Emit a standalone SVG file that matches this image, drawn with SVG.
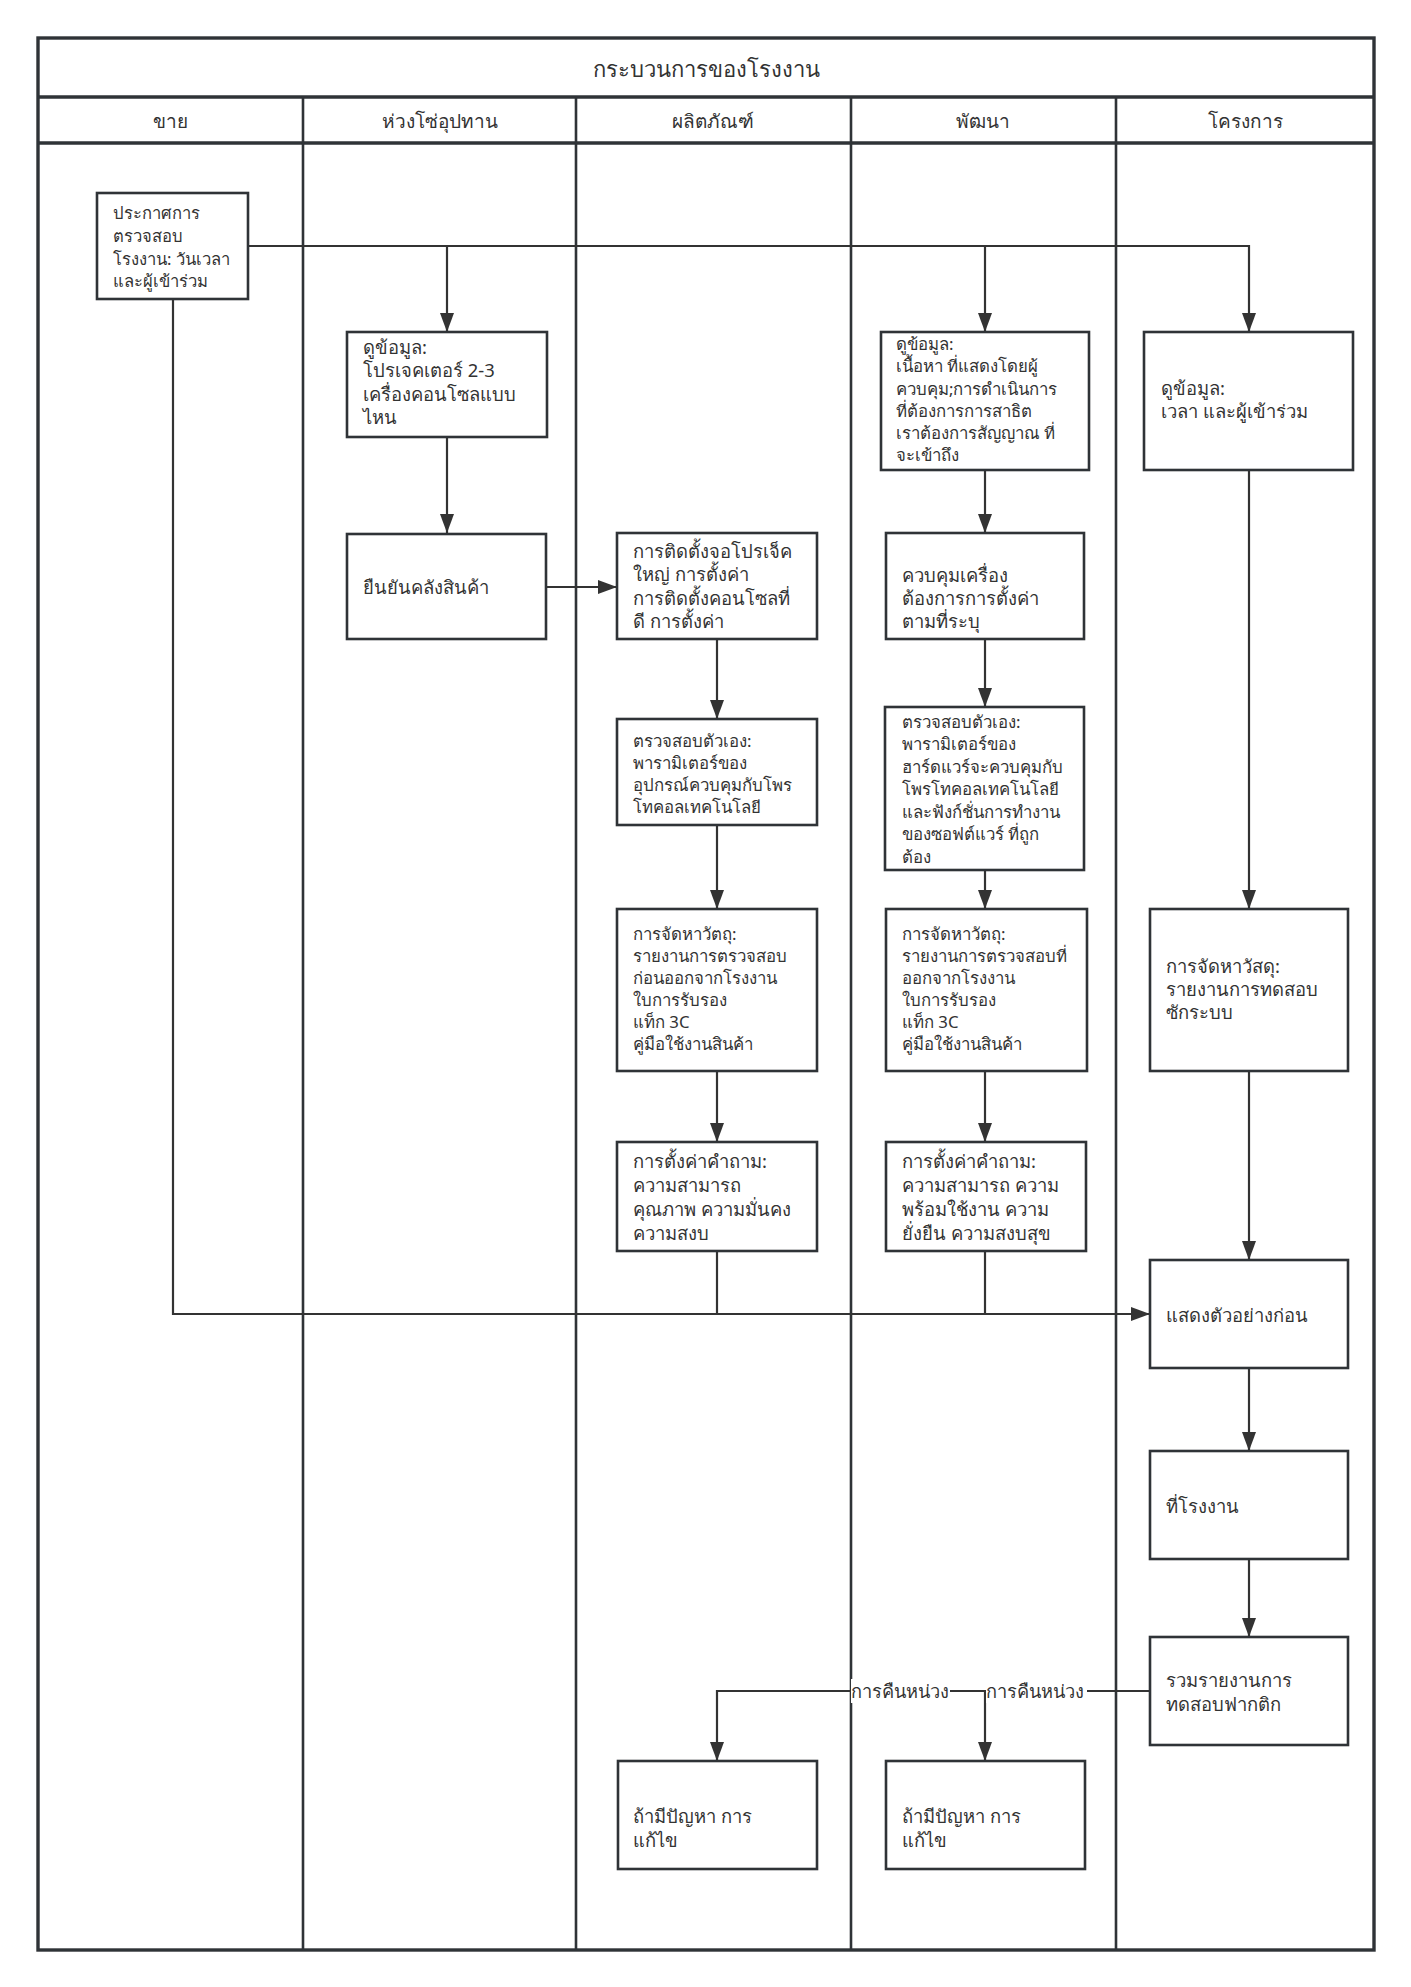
<svg xmlns="http://www.w3.org/2000/svg" width="1411" height="1987" viewBox="0 0 1411 1987">
<style>
text{font-family:"Noto Sans","DejaVu Sans",sans-serif;fill:#333;}
.box{fill:#fff;stroke:#2f3337;stroke-width:2.6;}
.lane{fill:none;stroke:#2f3337;stroke-width:2.6;}
.frame{fill:none;stroke:#2f3337;stroke-width:3.4;}
.c{fill:none;stroke:#333;stroke-width:2.2;}
.t17{font-size:18.4px;}
.t15{font-size:16.8px;}
.t16{font-size:16.6px;}
.hd{font-size:19px;text-anchor:middle;}
.ttl{font-size:22px;text-anchor:middle;}
.lbl{font-size:18.2px;}
</style>
<defs>
<marker id="ah" markerUnits="userSpaceOnUse" markerWidth="19" markerHeight="14" refX="19" refY="7" orient="auto">
<path d="M0,0 L19,7 L0,14 z" fill="#333"/>
</marker>
</defs>
<rect x="0" y="0" width="1411" height="1987" fill="#fff"/>
<g id="pool">
<rect class="frame" x="38" y="38" width="1336" height="1912"/>
<line class="frame" x1="38" y1="97" x2="1374" y2="97"/>
<line class="frame" x1="38" y1="143" x2="1374" y2="143"/>
<line class="lane" x1="303" y1="97" x2="303" y2="1950"/>
<line class="lane" x1="576" y1="97" x2="576" y2="1950"/>
<line class="lane" x1="851" y1="97" x2="851" y2="1950"/>
<line class="lane" x1="1116" y1="97" x2="1116" y2="1950"/>
<text class="ttl" x="706" y="77">กระบวนการของโรงงาน</text>
<text class="hd" x="170" y="128">ขาย</text>
<text class="hd" x="440" y="128">ห่วงโซ่อุปทาน</text>
<text class="hd" x="713" y="128">ผลิตภัณฑ์</text>
<text class="hd" x="983" y="128">พัฒนา</text>
<text class="hd" x="1245" y="128">โครงการ</text>
</g>
<g id="connectors">
<path class="c" d="M248,246 H1249 V332" marker-end="url(#ah)"/>
<path class="c" d="M447,246 V332" marker-end="url(#ah)"/>
<path class="c" d="M985,246 V332" marker-end="url(#ah)"/>
<path class="c" d="M447,437 V533" marker-end="url(#ah)"/>
<path class="c" d="M546,587 H617" marker-end="url(#ah)"/>
<path class="c" d="M717,639 V719" marker-end="url(#ah)"/>
<path class="c" d="M717,825 V909" marker-end="url(#ah)"/>
<path class="c" d="M717,1071 V1142" marker-end="url(#ah)"/>
<path class="c" d="M985,470 V533" marker-end="url(#ah)"/>
<path class="c" d="M985,639 V707" marker-end="url(#ah)"/>
<path class="c" d="M985,870 V909" marker-end="url(#ah)"/>
<path class="c" d="M985,1071 V1142" marker-end="url(#ah)"/>
<path class="c" d="M1249,470 V909" marker-end="url(#ah)"/>
<path class="c" d="M1249,1071 V1260" marker-end="url(#ah)"/>
<path class="c" d="M1249,1368 V1451" marker-end="url(#ah)"/>
<path class="c" d="M1249,1559 V1637" marker-end="url(#ah)"/>
<path class="c" d="M173,299 V1314 H1150" marker-end="url(#ah)"/>
<path class="c" d="M717,1251 V1314"/>
<path class="c" d="M985,1251 V1314"/>
<path class="c" d="M1150,1691 H717 V1761" marker-end="url(#ah)"/>
<path class="c" d="M985,1691 V1761" marker-end="url(#ah)"/>
<rect x="851" y="1679" width="99" height="24" fill="#fff"/>
<text class="lbl" x="851" y="1698">การคืนหน่วง</text>
<rect x="986" y="1679" width="101" height="24" fill="#fff"/>
<text class="lbl" x="986" y="1698">การคืนหน่วง</text>
</g>
<g id="n1">
<rect class="box" x="97" y="193" width="151" height="106"/>
<text class="t16"><tspan x="113" y="219">ประกาศการ</tspan><tspan x="113" y="242">ตรวจสอบ</tspan><tspan x="113" y="265">โรงงาน: วันเวลา</tspan><tspan x="113" y="287">และผู้เข้าร่วม</tspan></text>
</g>
<g id="n2">
<rect class="box" x="347" y="332" width="200" height="105"/>
<text class="t17"><tspan x="363" y="354">ดูข้อมูล:</tspan><tspan x="363" y="377">โปรเจคเตอร์ 2-3</tspan><tspan x="363" y="401">เครื่องคอนโซลแบบ</tspan><tspan x="363" y="424">ไหน</tspan></text>
</g>
<g id="n3">
<rect class="box" x="347" y="534" width="199" height="105"/>
<text class="t17" x="363" y="594">ยืนยันคลังสินค้า</text>
</g>
<g id="n4">
<rect class="box" x="617" y="533" width="200" height="106"/>
<text class="t17"><tspan x="633" y="558">การติดตั้งจอโปรเจ็ค</tspan><tspan x="633" y="581">ใหญ่ การตั้งค่า</tspan><tspan x="633" y="605">การติดตั้งคอนโซลที่</tspan><tspan x="633" y="628">ดี การตั้งค่า</tspan></text>
</g>
<g id="n5">
<rect class="box" x="617" y="719" width="200" height="106"/>
<text class="t15"><tspan x="633" y="747">ตรวจสอบตัวเอง:</tspan><tspan x="633" y="769">พารามิเตอร์ของ</tspan><tspan x="633" y="791">อุปกรณ์ควบคุมกับโพร</tspan><tspan x="633" y="813">โทคอลเทคโนโลยี</tspan></text>
</g>
<g id="n6">
<rect class="box" x="617" y="909" width="200" height="162"/>
<text class="t15"><tspan x="633" y="940">การจัดหาวัตถุ:</tspan><tspan x="633" y="962">รายงานการตรวจสอบ</tspan><tspan x="633" y="984">ก่อนออกจากโรงงาน</tspan><tspan x="633" y="1006">ใบการรับรอง</tspan><tspan x="633" y="1028">แท็ก 3C</tspan><tspan x="633" y="1050">คู่มือใช้งานสินค้า</tspan></text>
</g>
<g id="n7">
<rect class="box" x="617" y="1142" width="200" height="109"/>
<text class="t17"><tspan x="633" y="1168">การตั้งค่าคำถาม:</tspan><tspan x="633" y="1192">ความสามารถ</tspan><tspan x="633" y="1216">คุณภาพ ความมั่นคง</tspan><tspan x="633" y="1240">ความสงบ</tspan></text>
</g>
<g id="n8">
<rect class="box" x="881" y="332" width="208" height="138"/>
<text class="t15"><tspan x="896" y="350">ดูข้อมูล:</tspan><tspan x="896" y="372">เนื้อหา ที่แสดงโดยผู้</tspan><tspan x="896" y="395">ควบคุม;การดำเนินการ</tspan><tspan x="896" y="417">ที่ต้องการการสาธิต</tspan><tspan x="896" y="439">เราต้องการสัญญาณ ที่</tspan><tspan x="896" y="461">จะเข้าถึง</tspan></text>
</g>
<g id="n9">
<rect class="box" x="886" y="533" width="198" height="106"/>
<text class="t17"><tspan x="902" y="582">ควบคุมเครื่อง</tspan><tspan x="902" y="605">ต้องการการตั้งค่า</tspan><tspan x="902" y="628">ตามที่ระบุ</tspan></text>
</g>
<g id="n10">
<rect class="box" x="885" y="707" width="199" height="163"/>
<text class="t15"><tspan x="902" y="728">ตรวจสอบตัวเอง:</tspan><tspan x="902" y="750">พารามิเตอร์ของ</tspan><tspan x="902" y="773">ฮาร์ดแวร์จะควบคุมกับ</tspan><tspan x="902" y="795">โพรโทคอลเทคโนโลยี</tspan><tspan x="902" y="818">และฟังก์ชั่นการทำงาน</tspan><tspan x="902" y="840">ของซอฟต์แวร์ ที่ถูก</tspan><tspan x="902" y="863">ต้อง</tspan></text>
</g>
<g id="n11">
<rect class="box" x="886" y="909" width="201" height="162"/>
<text class="t15"><tspan x="902" y="940">การจัดหาวัตถุ:</tspan><tspan x="902" y="962">รายงานการตรวจสอบที่</tspan><tspan x="902" y="984">ออกจากโรงงาน</tspan><tspan x="902" y="1006">ใบการรับรอง</tspan><tspan x="902" y="1028">แท็ก 3C</tspan><tspan x="902" y="1050">คู่มือใช้งานสินค้า</tspan></text>
</g>
<g id="n12">
<rect class="box" x="886" y="1142" width="200" height="109"/>
<text class="t17"><tspan x="902" y="1168">การตั้งค่าคำถาม:</tspan><tspan x="902" y="1192">ความสามารถ ความ</tspan><tspan x="902" y="1216">พร้อมใช้งาน ความ</tspan><tspan x="902" y="1240">ยั่งยืน ความสงบสุข</tspan></text>
</g>
<g id="n13">
<rect class="box" x="1144" y="332" width="209" height="138"/>
<text class="t17"><tspan x="1161" y="395">ดูข้อมูล:</tspan><tspan x="1161" y="418">เวลา และผู้เข้าร่วม</tspan></text>
</g>
<g id="n14">
<rect class="box" x="1150" y="909" width="198" height="162"/>
<text class="t17"><tspan x="1166" y="973">การจัดหาวัสดุ:</tspan><tspan x="1166" y="996">รายงานการทดสอบ</tspan><tspan x="1166" y="1019">ซักระบบ</tspan></text>
</g>
<g id="n15">
<rect class="box" x="1150" y="1260" width="198" height="108"/>
<text class="t17" x="1166" y="1322">แสดงตัวอย่างก่อน</text>
</g>
<g id="n16">
<rect class="box" x="1150" y="1451" width="198" height="108"/>
<text class="t17" x="1166" y="1513">ที่โรงงาน</text>
</g>
<g id="n17">
<rect class="box" x="1150" y="1637" width="198" height="108"/>
<text class="t17"><tspan x="1166" y="1687">รวมรายงานการ</tspan><tspan x="1166" y="1711">ทดสอบฟากติก</tspan></text>
</g>
<g id="n18">
<rect class="box" x="618" y="1761" width="199" height="108"/>
<text class="t17"><tspan x="633" y="1823">ถ้ามีปัญหา การ</tspan><tspan x="633" y="1847">แก้ไข</tspan></text>
</g>
<g id="n19">
<rect class="box" x="886" y="1761" width="199" height="108"/>
<text class="t17"><tspan x="902" y="1823">ถ้ามีปัญหา การ</tspan><tspan x="902" y="1847">แก้ไข</tspan></text>
</g>
</svg>
